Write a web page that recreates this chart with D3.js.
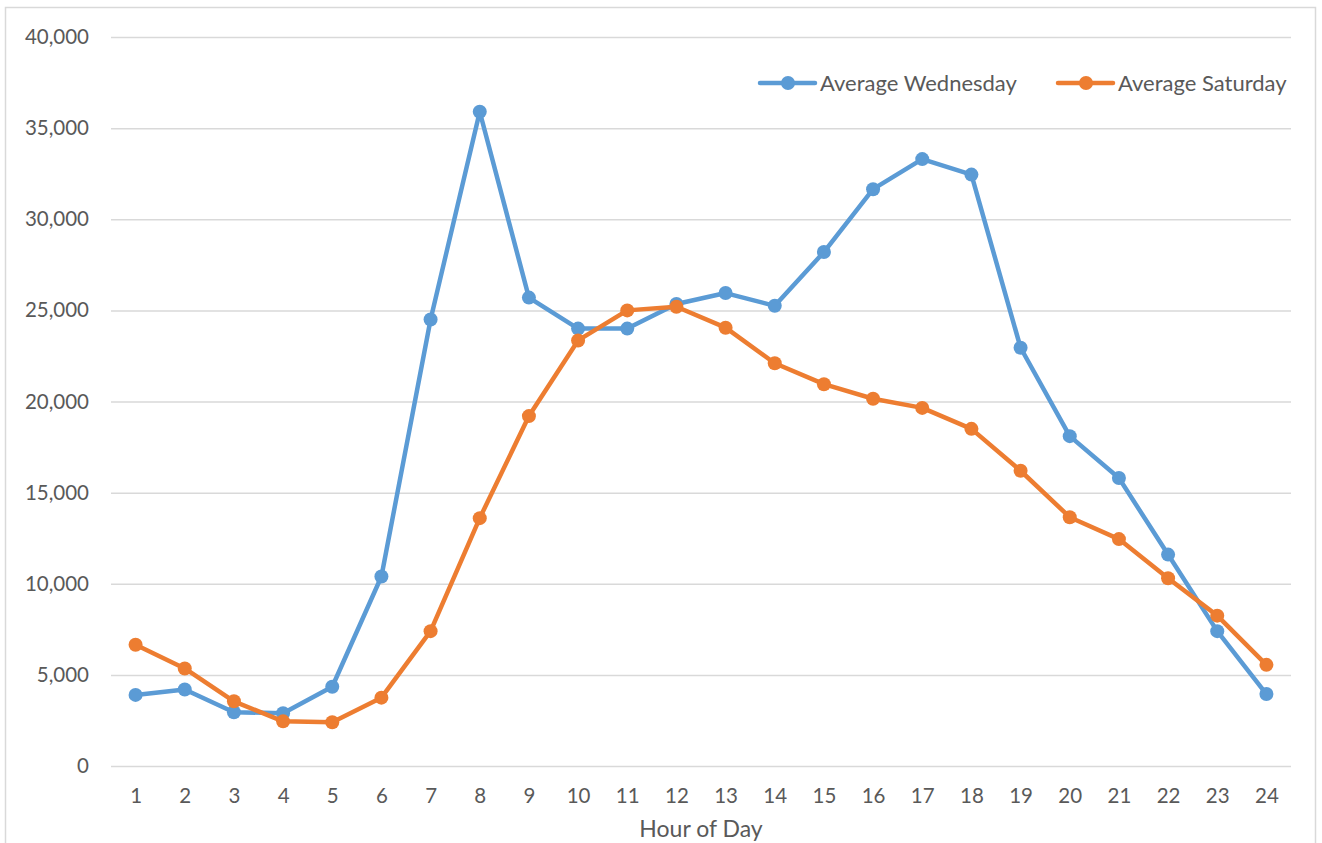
<!DOCTYPE html>
<html><head><meta charset="utf-8">
<script src="https://cdn.jsdelivr.net/npm/d3@7"></script>
<style>
html,body{margin:0;padding:0;background:#fff;}
svg text{font-family:Lato,"Open Sans",sans-serif;fill:#595959;}
</style></head>
<body><svg id="c" width="1322" height="843"></svg>
<script>
const hours = d3.range(1,25).map(String);
const wednesday = [3900,4200,2950,2900,4350,10400,24500,35900,25700,24000,24000,25350,25950,25250,28200,31650,33300,32450,22950,18100,15800,11600,7400,3950];
const saturday = [6650,5350,3550,2450,2400,3750,7400,13600,19200,23350,25000,25200,24050,22100,20950,20150,19650,18500,16200,13650,12450,10300,8250,5550];
const seriesNames = ["Average Wednesday","Average Saturday"];
const colors = ["#5B9BD5","#ED7D31"];
const yTicks = [0,5000,10000,15000,20000,25000,30000,35000,40000];

(function(){
const svg = d3.select("#c");
svg.append("rect").attr("x",5.5).attr("y",7.5).attr("width",1310).attr("height",850)
  .attr("fill","#fff").attr("stroke","#D9D9D9").attr("stroke-width",1.5);

const pL=111,pR=1291,pT=37,pB=766;
const x = d3.scalePoint().domain(hours).range([pL,pR]).padding(0.5);
const y = d3.scaleLinear().domain([0,40000]).range([pB,pT]);

const grid = svg.append("g").attr("transform",`translate(${pL},0)`)
  .call(d3.axisLeft(y).tickValues(yTicks).tickSize(-(pR-pL)).tickFormat(""));
grid.select(".domain").remove();
grid.selectAll("line").attr("stroke","#D9D9D9").attr("stroke-width",1.5);

const ya = svg.append("g").attr("transform",`translate(${pL},0)`)
  .call(d3.axisLeft(y).tickValues(yTicks).tickSize(0).tickPadding(22).tickFormat(d3.format(",")));
ya.select(".domain").remove();
ya.selectAll("text").attr("font-size",20.5).style("font-family","Lato,sans-serif").attr("fill","#595959");

const xa = svg.append("g").attr("transform",`translate(0,${pB})`)
  .call(d3.axisBottom(x).tickSize(0).tickPadding(22));
xa.select(".domain").remove();
xa.selectAll("text").attr("font-size",20.5).style("font-family","Lato,sans-serif").attr("fill","#595959");

svg.append("text").attr("x",(pL+pR)/2).attr("y",837).attr("text-anchor","middle")
  .attr("font-size",23).text("Hour of Day");

const data=[wednesday,saturday];
const line = d3.line().x((d,i)=>x(hours[i])).y(d=>y(d));
data.forEach((s,k)=>{
  svg.append("path").datum(s).attr("d",line).attr("fill","none")
    .attr("stroke",colors[k]).attr("stroke-width",4.5).attr("stroke-linejoin","round").attr("stroke-linecap","round");
  svg.append("g").selectAll("circle").data(s).join("circle")
    .attr("cx",(d,i)=>x(hours[i])).attr("cy",d=>y(d)).attr("r",7).attr("fill",colors[k]);
});

const legX=[760,1058];
seriesNames.forEach((n,k)=>{
  const g=svg.append("g").attr("transform",`translate(${legX[k]},83)`);
  g.append("line").attr("x1",0).attr("x2",55).attr("stroke",colors[k]).attr("stroke-width",4.5).attr("stroke-linecap","round");
  g.append("circle").attr("cx",28).attr("r",7).attr("fill",colors[k]);
  g.append("text").attr("x",60).attr("y",8).attr("font-size",22).text(n);
});
})();
</script></body></html>
